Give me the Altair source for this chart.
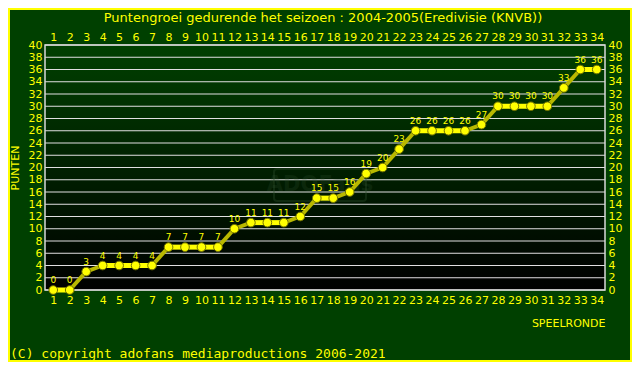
import altair as alt
import pandas as pd

rounds = list(range(1, 35))
points = [0, 0, 3, 4, 4, 4, 4, 7, 7, 7, 7, 10, 11, 11, 11, 12, 15, 15, 16, 19,
          20, 23, 26, 26, 26, 26, 27, 30, 30, 30, 30, 33, 36, 36]
y_ticks = list(range(0, 41, 2))

title_text = "Puntengroei gedurende het seizoen : 2004-2005(Eredivisie (KNVB))"
copyright_text = "(C) copyright adofans mediaproductions 2006-2021"

W, H = 560, 245
YEL = "#ffff00"
FONT = "DejaVu Sans"

df = pd.DataFrame({"ronde": rounds, "punten": points})
seg = pd.DataFrame({
    "x": rounds[:-1], "x2": rounds[1:],
    "y": points[:-1], "y2": points[1:],
})
seg["flat"] = seg["y"] == seg["y2"]
grid_df = pd.DataFrame({"g": y_ticks})

xs = alt.Scale(domain=[0.5, 34.5], nice=False, zero=False)
ys = alt.Scale(domain=[0, 40], nice=False)

ax_common = dict(labelColor=YEL, labelFont=FONT, labelFontSize=11, ticks=False,
                 domain=False, titleColor=YEL, titleFont=FONT,
                 titleFontWeight="normal", titleFontSize=11, grid=False,
                 labelFlush=False, labelOverlap=False)

x_bottom = alt.Axis(orient="bottom", values=rounds, title="SPEELRONDE",
                    titleAnchor="end", titlePadding=12, labelPadding=4, **ax_common)
y_left = alt.Axis(orient="left", values=y_ticks, title="PUNTEN",
                  titlePadding=8, labelPadding=3, **ax_common)
x_top = alt.Axis(orient="top", values=rounds, title=None, labelPadding=3, **ax_common)
y_right = alt.Axis(orient="right", values=y_ticks, title=None, labelPadding=3,
                   **ax_common)

extra = pd.DataFrame({"c": [copyright_text], "w": ["ADOFans"], "t": [title_text]})

bg = alt.Chart(extra).mark_rect(
    fill=alt.LinearGradient(gradient="linear", x1=0, y1=0, x2=0, y2=1,
                            stops=[alt.GradientStop(color="#004000", offset=0),
                                   alt.GradientStop(color="#000000", offset=1)])
).encode(x=alt.value(0), x2=alt.value(W), y=alt.value(0), y2=alt.value(H))

grid = alt.Chart(grid_df).mark_rule(color="#e0e0e0", strokeWidth=1).encode(
    y=alt.Y("g:Q", scale=ys, axis=y_left),
)

frame = alt.Chart(extra).mark_rect(fill=None, stroke="#d8d8d8", strokeWidth=1.5).encode(
    x=alt.value(0), x2=alt.value(W), y=alt.value(0), y2=alt.value(H))

segments = alt.Chart(seg).mark_rule(strokeCap="butt").encode(
    x=alt.X("x:Q", scale=xs, axis=x_bottom),
    x2="x2:Q",
    y=alt.Y("y:Q", scale=ys, axis=y_left),
    y2="y2:Q",
    color=alt.Color("flat:N", scale=alt.Scale(domain=[True, False],
                                              range=[YEL, "#b8b800"]), legend=None),
    strokeWidth=alt.StrokeWidth("flat:N", scale=alt.Scale(domain=[True, False],
                                                          range=[5, 4]), legend=None),
)

base = alt.Chart(df)

dots = base.mark_point(filled=True, shape="circle", size=75, fill=YEL,
                       stroke="#707000", strokeWidth=1, opacity=1).encode(
    x=alt.X("ronde:Q", scale=xs, axis=x_bottom),
    y=alt.Y("punten:Q", scale=ys, axis=y_left),
)

labels = base.mark_text(dy=-10, fontSize=9, font=FONT, color=YEL).encode(
    x=alt.X("ronde:Q", scale=xs, axis=x_bottom),
    y=alt.Y("punten:Q", scale=ys, axis=y_left),
    text="punten:Q",
)

copyright_mark = alt.Chart(extra).mark_text(
    align="left", baseline="middle", font="DejaVu Sans Mono", fontSize=13,
    color=YEL).encode(x=alt.value(-35), y=alt.value(309), text="c:N")

title_mark = alt.Chart(extra).mark_text(
    align="center", baseline="middle", font=FONT, fontSize=13,
    color=YEL).encode(x=alt.value(278), y=alt.value(-27), text="t:N")

watermark_box = alt.Chart(extra).mark_rect(
    fill=None, stroke="#2f4f2f", strokeWidth=2, cornerRadius=3, opacity=0.35).encode(
    x=alt.value(229), x2=alt.value(321), y=alt.value(124), y2=alt.value(156))

watermark = alt.Chart(extra).mark_text(
    align="center", baseline="middle", font=FONT, fontSize=21, fontWeight="bold",
    color="#3a5a3a", opacity=0.2).encode(x=alt.value(275), y=alt.value(140), text="w:N")

border = alt.Chart(extra).mark_rect(fill=None, stroke=YEL, strokeWidth=2).encode(
    x=alt.value(-36), x2=alt.value(586), y=alt.value(-36), y2=alt.value(316))

main = alt.layer(bg, grid, frame, watermark_box, watermark, segments, dots, labels,
                 copyright_mark, title_mark, border)

second = base.mark_point(opacity=0).encode(
    x=alt.X("ronde:Q", scale=xs, axis=x_top),
    y=alt.Y("punten:Q", scale=ys, axis=y_right),
)

chart = alt.layer(main, second).resolve_axis(x="independent", y="independent").properties(
    width=W, height=H,
    autosize=alt.AutoSizeParams(type="none"),
    padding={"left": 37, "top": 37, "right": 27, "bottom": 72},
).configure(background="#004000").configure_view(stroke=None)

chart.save("out.html", embed_options={"renderer": "svg", "actions": False})
